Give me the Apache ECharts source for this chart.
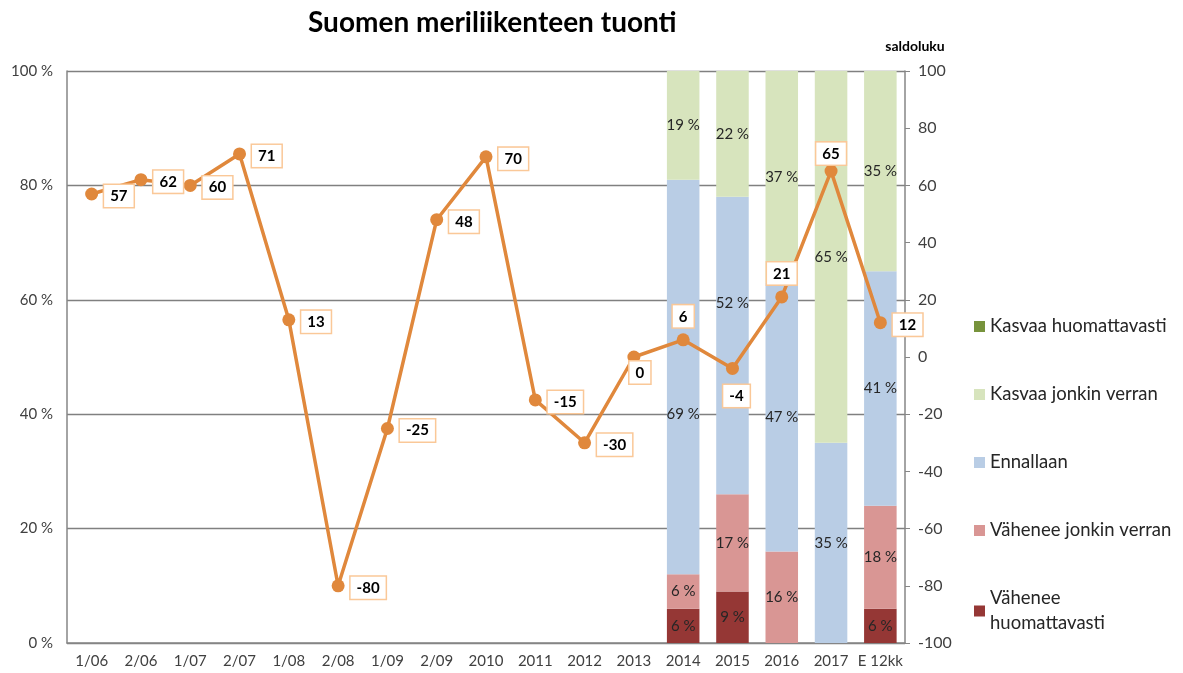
<!DOCTYPE html>
<html>
<head>
<meta charset="utf-8">
<script src="https://cdn.jsdelivr.net/npm/echarts@6/dist/echarts.min.js"></script>
<style>
  html, body { margin: 0; padding: 0; background: #fff; }
  #chart { width: 1183px; height: 673px; }
</style>
</head>
<body>
<div id="chart"></div>
<script>
const chart = echarts.init(document.getElementById("chart"));

const CATEGORIES = ["1/06", "2/06", "1/07", "2/07", "1/08", "2/08", "1/09", "2/09",
  "2010", "2011", "2012", "2013", "2014", "2015", "2016", "2017", "E 12kk"];
// survey shares, only for the last five categories (2014 .. E 12kk)
const BAR_YEARS = ["2014", "2015", "2016", "2017", "E 12kk"];
const vaheneeHuom = [6, 9, 0, 0, 6];
const vaheneeJonkin = [6, 17, 16, 0, 18];
const ennallaan = [69, 52, 47, 35, 41];
const kasvaaJonkin = [19, 22, 37, 65, 35];
const kasvaaHuom = [0, 0, 0, 0, 0];
// balance figure (saldoluku)
const saldoluku = [57, 62, 60, 71, 13, -80, -25, 48, 70, -15, -30, 0, 6, -4, 21, 65, 12];

const FONT = "Lato, 'Open Sans', sans-serif";

// where each saldoluku label sits relative to its point
const lineLabelPos = {
  "2013": { position: "bottom", offset: [6, -8] },
  "2014": { position: "top", distance: 6, offset: [0, 0] },
  "2015": { position: "bottom", distance: 6, offset: [4, 4] },
  "2016": { position: "top", distance: 6, offset: [0, 0] },
  "2017": { position: "top", distance: 3, offset: [0, 3] }
};
// a couple of bar labels were nudged in the original
const barLabelOffset = {
  "Ennallaan|2014": [0, 37],
  "Ennallaan|2015": [0, -42]
};

function padBars(name, values) {
  return CATEGORIES.map(c => {
    const i = BAR_YEARS.indexOf(c);
    if (i < 0) return null;
    const off = barLabelOffset[name + "|" + c];
    return off ? { value: values[i], label: { offset: off } } : values[i];
  });
}

function barSeries(name, values, color) {
  return {
    name,
    type: "bar",
    stack: "share",
    yAxisIndex: 0,
    barWidth: "66%",
    itemStyle: { color },
    label: {
      show: true,
      position: "inside",
      color: "#262626",
      fontFamily: FONT,
      fontSize: 15,
      formatter: p => (p.value ? p.value + " %" : "")
    },
    data: padBars(name, values)
  };
}

const lineData = saldoluku.map((v, i) => {
  const pos = lineLabelPos[CATEGORIES[i]];
  return pos ? { value: v, label: pos } : v;
});

chart.setOption({
  animation: false,
  textStyle: { fontFamily: FONT },
  title: {
    text: "Suomen meriliikenteen tuonti",
    left: 303,
    top: 4,
    textStyle: { fontFamily: FONT, fontSize: 28, fontWeight: "bold", color: "#000" }
  },
  legend: {
    orient: "vertical",
    left: 969,
    top: 309,
    height: 364,
    itemWidth: 11,
    itemHeight: 11,
    itemGap: 43,
    icon: "rect",
    textStyle: { fontFamily: FONT, fontSize: 18.5, color: "#262626", lineHeight: 25 },
    formatter: n => (n === "Vähenee huomattavasti" ? "Vähenee\nhuomattavasti" : n),
    data: ["Kasvaa huomattavasti", "Kasvaa jonkin verran", "Ennallaan",
      "Vähenee jonkin verran", "Vähenee huomattavasti"]
  },
  grid: { left: 67, right: 278, top: 71, bottom: 30 },
  xAxis: {
    type: "category",
    data: CATEGORIES,
    axisLine: { lineStyle: { color: "#868686", width: 1.5 } },
    axisTick: { show: false },
    axisLabel: { color: "#404040", fontSize: 15, margin: 11, interval: 0 }
  },
  yAxis: [
    {
      type: "value",
      min: 0,
      max: 100,
      interval: 20,
      axisLine: { show: true, lineStyle: { color: "#868686", width: 1.5 } },
      axisTick: { show: false },
      axisLabel: { formatter: "{value} %", color: "#404040", fontSize: 15, margin: 14 },
      splitLine: { lineStyle: { color: "#808080", width: 1.3 } }
    },
    {
      type: "value",
      position: "right",
      min: -100,
      max: 100,
      interval: 20,
      name: "saldoluku",
      nameLocation: "end",
      nameGap: 18,
      nameTextStyle: { fontFamily: FONT, fontSize: 14, fontWeight: "bold", color: "#000", align: "center", padding: [0, 0, 0, 20] },
      axisLine: { show: true, lineStyle: { color: "#868686", width: 1.5 } },
      axisTick: { show: true, inside: false, length: 5, lineStyle: { color: "#868686" } },
      axisLabel: { color: "#404040", fontSize: 16, margin: 13 },
      splitLine: { show: false }
    }
  ],
  series: [
    barSeries("Vähenee huomattavasti", vaheneeHuom, "#953735"),
    barSeries("Vähenee jonkin verran", vaheneeJonkin, "#D99694"),
    barSeries("Ennallaan", ennallaan, "#B9CDE5"),
    barSeries("Kasvaa jonkin verran", kasvaaJonkin, "#D7E4BD"),
    barSeries("Kasvaa huomattavasti", kasvaaHuom, "#77933C"),
    {
      name: "saldoluku",
      type: "line",
      yAxisIndex: 1,
      symbol: "circle",
      symbolSize: 13,
      itemStyle: { color: "#E0883C" },
      lineStyle: { color: "#E0883C", width: 3.5 },
      z: 5,
      label: {
        show: true,
        position: "right",
        distance: 6,
        offset: [0, 2],
        color: "#000",
        fontFamily: FONT,
        fontSize: 15,
        fontWeight: "bold",
        backgroundColor: "#fff",
        borderColor: "#FAC898",
        borderWidth: 1.5,
        padding: [4, 6, 3, 6]
      },
      data: lineData
    }
  ]
});
</script>
</body>
</html>
